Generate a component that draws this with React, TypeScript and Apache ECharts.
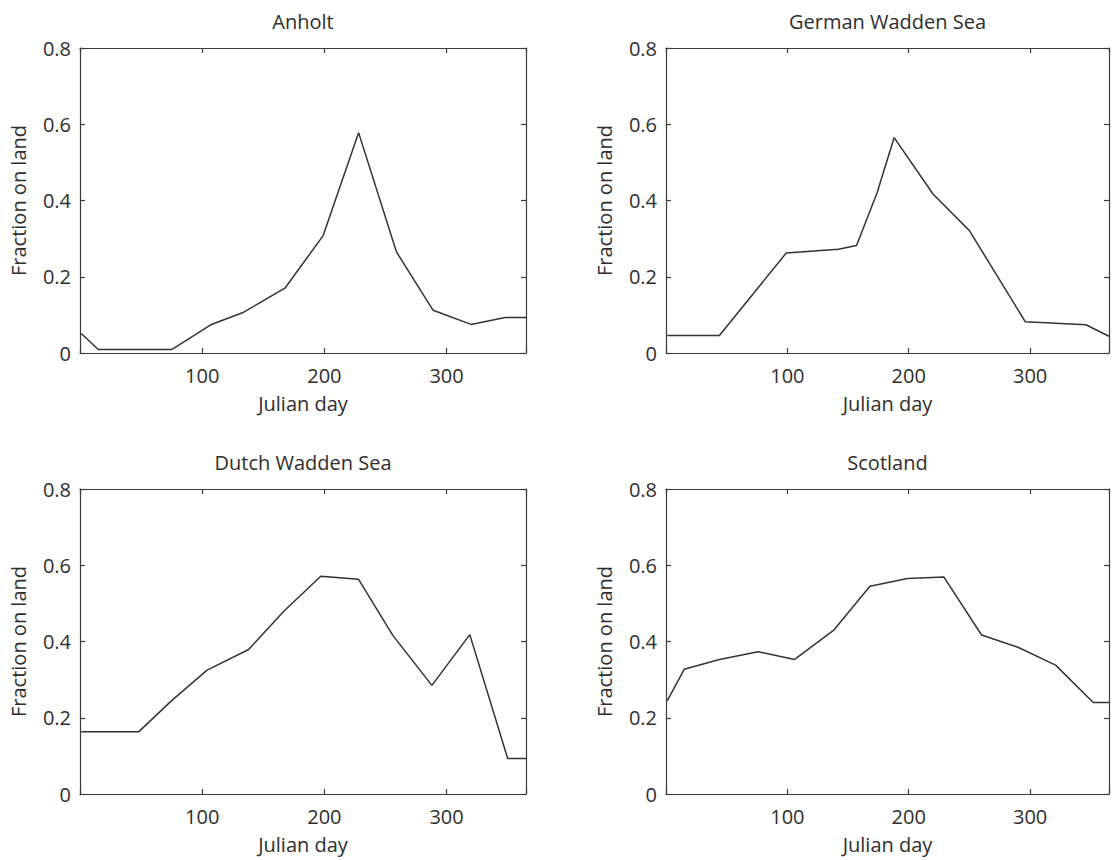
import React, { useEffect, useRef } from "react";
import * as echarts from "echarts";

// ---- data ----
const panelTitles = ["Anholt", "German Wadden Sea", "Dutch Wadden Sea", "Scotland"];

const anholtDays = [1, 15, 75, 107, 134, 168, 199, 228, 259, 289, 320, 348, 365];
const anholtFraction = [0.051, 0.009, 0.009, 0.074, 0.107, 0.171, 0.308, 0.578, 0.265, 0.112, 0.075, 0.093, 0.093];

const germanDays = [1, 44, 99, 142, 157, 174, 188, 220, 250, 296, 346, 365];
const germanFraction = [0.046, 0.046, 0.262, 0.272, 0.282, 0.421, 0.565, 0.417, 0.321, 0.082, 0.074, 0.044];

const dutchDays = [1, 48, 75, 104, 138, 167, 197, 228, 256, 288, 319, 350, 365];
const dutchFraction = [0.163, 0.163, 0.245, 0.325, 0.379, 0.48, 0.571, 0.563, 0.416, 0.285, 0.418, 0.093, 0.093];

const scotlandDays = [1, 15, 44, 76, 106, 138, 168, 199, 229, 260, 290, 321, 352, 365];
const scotlandFraction = [0.244, 0.327, 0.353, 0.373, 0.353, 0.429, 0.545, 0.565, 0.569, 0.417, 0.385, 0.338, 0.24, 0.24];

const xTickLabels = [100, 200, 300];
const yTickLabels = ["0", "0.2", "0.4", "0.6", "0.8"];
const xAxisTitle = "Julian day";
const yAxisTitle = "Fraction on land";

const seriesDays = [anholtDays, germanDays, dutchDays, scotlandDays];
const seriesFraction = [anholtFraction, germanFraction, dutchFraction, scotlandFraction];

// ---- layout / style ----
const FONT = "'Open Sans', 'Noto Sans', sans-serif";
const TEXT = "#2e2e2e";
const AXIS = "#3a3a3a";
const FS = 20;

const grids = [
  { left: 80, top: 48, width: 446, height: 305 },
  { left: 666, top: 48, width: 447, height: 305 },
  { left: 80, top: 489, width: 446, height: 305 },
  { left: 666, top: 489, width: 447, height: 305 },
];

export default function App() {
  const ref = useRef<HTMLDivElement>(null);

  useEffect(() => {
    if (!ref.current) return;
    const chart = echarts.init(ref.current, undefined, { renderer: "svg" });

    const xAxes: any[] = [];
    const yAxes: any[] = [];
    const series: any[] = [];
    const graphics: any[] = [];

    grids.forEach((g, i) => {
      const baseX = {
        type: "value",
        gridIndex: i,
        min: 0,
        max: 365,
        interval: 100,
        splitLine: { show: false },
        axisLine: { show: true, onZero: false, lineStyle: { color: AXIS, width: 1.2 } },
        axisTick: { show: true, inside: true, length: 5, lineStyle: { color: AXIS, width: 1.2 } },
      };
      xAxes.push({
        ...baseX,
        position: "bottom",
        name: xAxisTitle,
        nameLocation: "middle",
        nameGap: 40,
        nameTextStyle: { fontFamily: FONT, fontSize: FS, color: TEXT },
        axisLabel: {
          show: true,
          margin: 12,
          fontFamily: FONT,
          fontSize: FS,
          color: TEXT,
          formatter: (v: number) => (xTickLabels.includes(v) ? String(v) : ""),
        },
      });
      xAxes.push({ ...baseX, position: "top", axisLabel: { show: false } });

      const baseY = {
        type: "value",
        gridIndex: i,
        min: 0,
        max: 0.8,
        interval: 0.2,
        splitLine: { show: false },
        axisLine: { show: true, onZero: false, lineStyle: { color: AXIS, width: 1.2 } },
        axisTick: { show: true, inside: true, length: 5, lineStyle: { color: AXIS, width: 1.2 } },
      };
      yAxes.push({
        ...baseY,
        position: "left",
        name: yAxisTitle,
        nameLocation: "middle",
        nameGap: 52,
        nameTextStyle: { fontFamily: FONT, fontSize: FS, color: TEXT },
        axisLabel: {
          show: true,
          margin: 9,
          fontFamily: FONT,
          fontSize: FS,
          color: TEXT,
          formatter: (v: number) => yTickLabels[Math.round(v / 0.2)] ?? "",
        },
      });
      yAxes.push({ ...baseY, position: "right", axisLabel: { show: false } });

      series.push({
        type: "line",
        xAxisIndex: i * 2,
        yAxisIndex: i * 2,
        data: seriesDays[i].map((d, k) => [d, seriesFraction[i][k]]),
        showSymbol: false,
        symbol: "none",
        clip: true,
        lineStyle: { color: "#333333", width: 1.5 },
      });

      graphics.push({
        type: "text",
        x: g.left + Math.min(g.width, 1112 - g.left + 2) / 2 + (i % 2 === 1 ? -2 : 0),
        y: g.top - 27,
        style: {
          text: panelTitles[i],
          align: "center",
          verticalAlign: "middle",
          fontFamily: FONT,
          fontSize: FS,
          fill: TEXT,
        },
      });
    });

    chart.setOption({
      animation: false,
      backgroundColor: "#ffffff",
      grid: grids.map((g) => ({ ...g, containLabel: false })),
      xAxis: xAxes,
      yAxis: yAxes,
      series,
      graphic: graphics,
    });

    return () => chart.dispose();
  }, []);

  return (
    <div
      ref={ref}
      style={{ position: "absolute", left: 0, top: 0, width: 1112, height: 860, background: "#fff" }}
    />
  );
}
